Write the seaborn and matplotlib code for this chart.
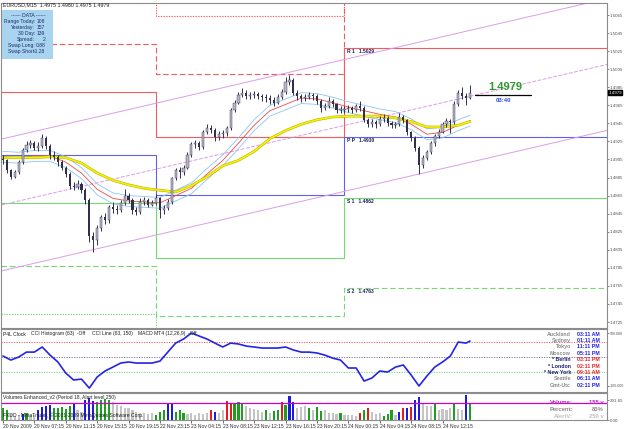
import matplotlib
matplotlib.use("Agg")
import matplotlib.pyplot as plt
from matplotlib.lines import Line2D
from matplotlib.patches import Rectangle
import numpy as np
import seaborn as sns

sns.set_style("white")
plt.rcParams["font.family"] = ["Liberation Sans", "DejaVu Sans"]

W, H = 625, 429

# ---- price data: 30-minute slots, values in pips above 1.4800 ----
BASE = 1.4800
first_open = 106
close_pips = [104, 93, 86, 91, 102, 115, 121, 123, 118, 120,
              129, 120, 110, 108, 102, 96, 89, 76, 75, 78,
              71, 60, 20, 16, 29, 41, 38, 52, 50, 49,
              57, 65, 60, 49, 47, 58, 60, 55, 57, 62,
              49, 51, 58, 84, 93, 91, 96, 110, 122, 123,
              119, 135, 140, 138, 130, 133, 134, 140, 160, 168,
              176, 179, 175, 176, 177, 175, 174, 173, 171, 168,
              174, 180, 191, 193, 179, 175, 173, 174, 176, 175,
              170, 162, 164, 170, 166, 160, 160, 161, 162, 160,
              164, 162, 149, 144, 147, 144, 150, 151, 145, 143,
              144, 152, 149, 135, 129, 118, 99, 107, 113, 123,
              131, 136, 144, 148, 146, 166, 179, 175, 173, 179]
high_pips = [110, 106, 95, 93, 104, 118, 125, 127, 126, 124,
             133, 131, 122, 114, 110, 104, 98, 91, 80, 82,
             80, 73, 62, 25, 32, 44, 46, 55, 58, 55,
             60, 72, 68, 62, 52, 62, 64, 62, 60, 67,
             63, 55, 61, 86, 96, 97, 99, 113, 124, 127,
             125, 138, 144, 143, 140, 137, 138, 142, 162, 171,
             180, 184, 182, 180, 181, 180, 178, 177, 176, 174,
             177, 183, 196, 199, 195, 182, 178, 178, 180, 179,
             177, 172, 168, 174, 172, 168, 164, 164, 165, 164,
             167, 170, 164, 151, 150, 149, 153, 155, 153, 148,
             147, 156, 154, 150, 137, 131, 120, 110, 116, 125,
             133, 139, 147, 151, 150, 170, 182, 185, 179, 187]
low_pips = [100, 90, 83, 84, 89, 100, 113, 118, 115, 114,
            118, 117, 106, 104, 98, 93, 86, 72, 71, 72,
            68, 56, 14, 3, 10, 26, 34, 35, 46, 45,
            47, 55, 57, 45, 43, 45, 55, 52, 53, 55,
            40, 45, 49, 56, 82, 85, 88, 94, 108, 118,
            116, 117, 133, 134, 126, 127, 129, 131, 138, 158,
            166, 174, 172, 172, 173, 172, 170, 169, 167, 164,
            166, 172, 178, 188, 176, 171, 169, 170, 172, 171,
            167, 158, 160, 162, 163, 157, 157, 157, 158, 157,
            158, 159, 146, 141, 141, 140, 142, 147, 142, 140,
            140, 142, 145, 132, 125, 114, 89, 96, 104, 111,
            120, 129, 134, 141, 134, 144, 164, 172, 165, 172]

# moving averages sampled every 4 slots (last one at slot 119)
ma_slots = list(range(0, 120, 4)) + [119]
slow_ma_pips = [107, 107, 107, 108, 107, 101, 90, 82, 77, 73, 71, 69, 76, 86, 98, 104,
                114, 128, 137, 144, 149, 152, 153, 153, 153, 151, 147, 141, 141, 143, 147]
fast_ma_pips = [108, 107, 109, 109, 102, 90, 72, 62, 59, 58, 57, 65, 73, 89, 104, 123,
                143, 159, 166, 173, 172, 168, 163, 159, 155, 152, 144, 133, 135, 143, 148]
envelope_pips = 6

# daily pivot levels (3 days)
day_first_slot = [39, 87]
pivots = {
    "R3": [1.5103, 1.5064, 1.5196],
    "R2": [1.5033, 1.5000, 1.5097],
    "R1": [1.4980, 1.4930, 1.5029],
    "PP": [1.4910, 1.4866, 1.4930],
    "S1": [1.4857, 1.4796, 1.4862],
    "S2": [1.4787, 1.4732, 1.4763],
    "S3": [1.4734, 1.4662, 1.4695],
}
pivot_labels = {"R1": "R 1", "PP": "P P", "S1": "S 1", "S2": "S 2"}

# regression channel: mid line at slot 0 and slot 119, half width
chan_mid = [1.4855, 1.4975]
chan_half = 0.0073

# CCI line sampled every 2 slots (+ last slot)
cci_slots = list(range(0, 120, 2)) + [119]
cci_vals = [7, -20, 0, 33, 33, 67, 13, -33, -107, -153,
            -147, -207, -133, -93, -67, -40, -33, -40, -40, -40,
            -27, 33, 93, 120, 160, 140, 120, 93, 67, 93,
            87, 73, 67, 60, 60, 60, 67, 47, 33, 33,
            27, 13, -7, -20, -73, -73, -160, -140, -93, -100,
            -67, -53, -120, -193, -127, -67, -33, 7, 100, 93,
            107]

# volumes per slot
vol_vals = [176, 150, 90, 60, 70, 90, 100, 80, 70, 150,
            190, 210, 220, 180, 170, 190, 160, 200, 230, 150,
            120, 300, 330, 280, 260, 300, 310, 290, 260, 220,
            200, 180, 170, 150, 120, 100, 110, 90, 100, 80,
            120, 140, 230, 240, 120, 150, 100, 90, 100, 80,
            110, 90, 100, 150, 120, 110, 140, 280, 250, 240,
            260, 230, 200, 180, 160, 140, 120, 150, 110, 130,
            150, 260, 220, 350, 260, 180, 190, 200, 180, 150,
            190, 130, 140, 100, 100, 90, 110, 80, 70, 80,
            60, 100, 150, 180, 120, 90, 100, 60, 90, 140,
            80, 120, 170, 180, 190, 300, 340, 230, 200, 210,
            250, 150, 160, 140, 170, 230, 160, 150, 370, 240]
vol_kind = list("GGgggBGggB" "BBBGGGGGBg" "gBBBGGGGgg" "gggggggggG"
                "GGBBGGGggg" "gggRBggRRG" "GGgggggGgG" "GRGBBgggGg"
                "GGggggGggg" "gRGRgggGGG" "gBRBRBBggg" "GggggGggBG")
vol_alert = 250

price_ticks = [1.5065, 1.5045, 1.5025, 1.5005, 1.4985, 1.4965, 1.4945, 1.4925, 1.4905,
               1.4885, 1.4865, 1.4845, 1.4825, 1.4805, 1.4785, 1.4765, 1.4745, 1.4725]
last_price = 1.4979
time_slots = list(range(0, 120, 8))
time_labels = ["20 Nov 2009", "20 Nov 07:15", "20 Nov 11:15", "20 Nov 15:15", "20 Nov 19:15",
               "22 Nov 23:15", "23 Nov 04:15", "23 Nov 08:15", "23 Nov 12:15", "23 Nov 16:15",
               "23 Nov 20:15", "24 Nov 00:15", "24 Nov 04:15", "24 Nov 08:15", "24 Nov 12:15"]

clock_cities = ["Auckland", "Sydney", "Tokyo", "Moscow", "* Berlin", "* London",
                "* New York", "Seattle", "Gmt-Utc"]
clock_times = ["03:11 AM", "01:11 AM", "11:11 PM", "05:11 PM", "03:11 PM", "02:11 PM",
               "09:11 AM", "06:11 AM", "02:11 PM"]

data_rows = [("Range Today:", "108"), ("Yesterday:", "157"), ("30 Day:", "139"),
             ("Spread:", "2"), ("Swap Long:", "0.88"), ("Swap Short:", "-1.28")]


def to_price(p):
    return BASE + np.asarray(p, dtype=float) * 0.0001


def fpx(x, y):
    return x / W, 1 - y / H


XMIN, XMAX = -0.5, 153.9
FS = 3.6
TFS = 3.2
SPINE = "#8c8c8c"

fig = plt.figure(figsize=(W / 100, H / 100), dpi=100)
fig.patch.set_facecolor("white")
ax = fig.add_axes([1 / W, 1 - 328 / H, 606 / W, 325 / H])
ax_cci = fig.add_axes([1 / W, 1 - 392 / H, 606 / W, 63 / H])
ax_vol = fig.add_axes([1 / W, 1 - 420 / H, 606 / W, 27 / H])

for a in (ax, ax_cci, ax_vol):
    a.set_xlim(XMIN, XMAX)
    a.set_facecolor("white")
    for s in a.spines.values():
        s.set_color(SPINE)
        s.set_linewidth(0.8)
    a.yaxis.tick_right()
    a.tick_params(axis="y", labelsize=TFS, length=1.5, width=0.5, pad=0.6, colors="#505050")
    a.tick_params(axis="x", bottom=False, labelbottom=False)

# ---- main price panel ----
ax.set_ylim(1.47184, 1.50783)
slots = np.arange(len(close_pips))

# pivot steps
xs = [XMIN] + day_first_slot + [XMAX]
styles = {"R": "#f25c5c", "P": "#6060f0", "S": "#74d874"}
for name, vals in pivots.items():
    if name.endswith("1") or name == "PP":
        ls = "-"
    elif name.endswith("2"):
        ls = (0, (5, 2.5))
    else:
        ls = (0, (1.2, 1.2))
    ax.step(xs, vals + [vals[-1]], where="post", color=styles[name[0]], lw=0.8, linestyle=ls)
    if name in pivot_labels:
        ax.text(day_first_slot[1] + 0.6, vals[-1] - 0.00012,
                f"{pivot_labels[name]}   {vals[-1]:.4f}", fontsize=FS, color="#20205a",
                va="top", ha="left", fontweight="bold")

# regression channel
chan_col = "#dc9ce8"
ax.axline((0, chan_mid[0]), (119, chan_mid[1]), color=chan_col, lw=0.7, linestyle=(0, (4, 1.5)))
ax.axline((0, chan_mid[0] + chan_half), (119, chan_mid[1] + chan_half), color=chan_col, lw=0.7)
ax.axline((0, chan_mid[0] - chan_half), (119, chan_mid[1] - chan_half), color=chan_col, lw=0.7)

# moving averages
slow = to_price(slow_ma_pips)
fast = to_price(fast_ma_pips)
sns.lineplot(x=ma_slots, y=fast + envelope_pips * 0.0001, ax=ax, color="#8cc4f4", lw=0.6)
sns.lineplot(x=ma_slots, y=fast - envelope_pips * 0.0001, ax=ax, color="#8cc4f4", lw=0.6)
sns.lineplot(x=ma_slots, y=fast, ax=ax, color="#f04848", lw=0.6)
sns.lineplot(x=ma_slots, y=slow, ax=ax, color="#b4b000", lw=1.9)
sns.lineplot(x=ma_slots, y=slow, ax=ax, color="#f6f200", lw=1.2)

# candles
c = to_price(close_pips)
o = np.r_[to_price(first_open), c[:-1]]
hi = to_price(high_pips)
lo = to_price(low_pips)
ax.vlines(slots, lo, hi, color="#30304e", lw=0.7, zorder=5)
up = c >= o
ax.bar(slots[up], np.maximum(c - o, 0.00005)[up], bottom=o[up], width=0.55,
       color="#b8b8c8", edgecolor="#30304e", lw=0.3, zorder=6)
ax.bar(slots[~up], (o - c)[~up], bottom=c[~up], width=0.55,
       color="#30304e", lw=0, zorder=6)

ax.set_yticks(price_ticks)
ax.set_yticklabels([f"{t:.4f}" for t in price_ticks])
ax.text(1.002, last_price, f"{last_price:.4f}", transform=ax.get_yaxis_transform(),
        fontsize=TFS, color="white", va="center", ha="left",
        bbox=dict(boxstyle="square,pad=0.12", fc="black", ec="black"))

# ---- CCI panel ----
ax_cci.set_ylim(-233, 187)
for lvl, col in ((100, "#f05050"), (0, "#6a6a9a"), (-100, "#70d070")):
    ax_cci.axhline(lvl, color=col, lw=0.6, linestyle=(0, (1.5, 1.5)))
sns.lineplot(x=cci_slots, y=cci_vals, ax=ax_cci, color="#2424e6", lw=1.2)
ax_cci.set_yticks([160, -190])
ax_cci.set_yticklabels(["100.000", "-100.000"], fontsize=2.6)

# ---- volume panel ----
ax_vol.set_ylim(0, 397)
vol_colors = {"g": "#c4c4c4", "G": "#1e9e1e", "B": "#1c1ce0", "R": "#e41c1c"}
ax_vol.bar(np.arange(len(vol_vals)), vol_vals, width=0.55,
           color=[vol_colors[k] for k in vol_kind], lw=0)
ax_vol.axhline(vol_alert, color="#d000d0", lw=0.9)
ax_vol.set_yticks([291.65, 0])
ax_vol.set_yticklabels(["291.65", "0.00"])
ax_vol.tick_params(axis="x", bottom=True, labelbottom=True, labelsize=FS, length=2,
                   width=0.5, pad=1, colors="#303030")
ax_vol.set_xticks(time_slots)
ax_vol.set_xticklabels(time_labels, ha="left")

# ---- texts ----
fig.text(*fpx(3, 5), "EURUSD,M15  1.4975 1.4980 1.4975 1.4979", fontsize=3.8,
         color="#202020", va="center")
fig.patches.append(Rectangle(fpx(2, 59), 51 / W, 49 / H, transform=fig.transFigure,
                             fc="#a8d4f0", ec="none", zorder=0.5))
fig.text(*fpx(28, 15.5), "------ DATA ------", fontsize=3.6, color="#1e2a6a",
         ha="center", va="center")
for i, (lab, val) in enumerate(data_rows):
    y = 21.7 + i * 6.0
    fig.text(*fpx(35, y), lab, fontsize=3.6, color="#1e2a6a", ha="right", va="center")
    fig.text(*fpx(45, y), val, fontsize=3.6, color="#1e2a6a", ha="right", va="center")

fig.text(*fpx(505, 87), "1.4979", fontsize=8, color="#2e9a2e", fontweight="bold",
         ha="center", va="center")
fig.add_artist(Line2D([475 / W, 531 / W], [1 - 95 / H, 1 - 95 / H], color="black", lw=0.9))
fig.text(*fpx(504, 100.5), "03:40", fontsize=4.2, color="#2a46dc", fontweight="bold",
         ha="center", va="center")

for x, s in ((3, "P4L Clock"), (31, "CCI Histogram (63)  -Off"),
             (92, "CCI Line (63, 150)"), (138, "MACD MT4 (12,26,9)  -Off")):
    fig.text(*fpx(x, 334), s, fontsize=FS, color="#202020", va="center")

for i, (city, t) in enumerate(zip(clock_cities, clock_times)):
    y = 334 + i * 6.4
    star = city.startswith("*")
    fig.text(*fpx(571, y), city, fontsize=3.8, fontweight="bold", ha="right", va="center",
             color="#1c1c70" if star else "#8a8a8a")
    fig.text(*fpx(577, y), t, fontsize=3.8, fontweight="bold", ha="left", va="center",
             color="#e22020" if star else "#2020e0")

fig.text(*fpx(3, 397.5), "Volumes Enhanced_v2 (Period 18, Alert level 250)", fontsize=FS,
         color="#202020", va="center")
fig.text(*fpx(3, 415.5), "FXDD - MetaTrader, \u00a9 2001-2009 MetaQuotes Software Corp.",
         fontsize=FS, color="#202020", va="center")
for y, lab, val, col in ((402, "Volume:", "155 v", "#c020c0"),
                         (409.5, "Percent:", "83%", "#8a8a8a"),
                         (417, "AlertV:", "250 v", "#c0c0c0")):
    fig.text(*fpx(573, y), lab, fontsize=4.2, fontweight="bold", ha="right", va="center", color=col)
    fig.text(*fpx(604, y), val, fontsize=4.2, fontweight="bold", ha="right", va="center", color=col)

fig.savefig("out.png", dpi=100)
